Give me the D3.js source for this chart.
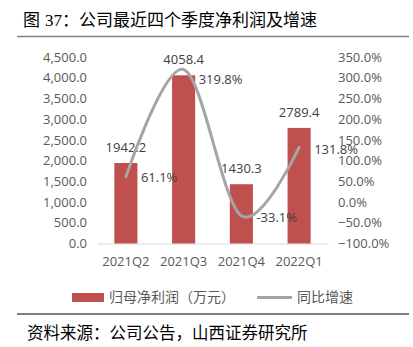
<!DOCTYPE html>
<html>
<head>
<meta charset="utf-8">
<script src="https://cdn.jsdelivr.net/npm/d3@7/dist/d3.min.js"></script>
<style>
  html, body { margin: 0; padding: 0; background: #fff; }
  svg { display: block; }
</style>
</head>
<body>
<svg id="chart" width="413" height="347"></svg>
<script>
// Quarterly net profit attributable to parent (10k CNY) and YoY growth (%)
const quarters = ["2021Q2", "2021Q3", "2021Q4", "2022Q1"];
const netProfit = [1942.2, 4058.4, 1430.3, 2789.4];
const yoyGrowth = [61.1, 319.8, -33.1, 131.8];
const leftTicks = [0, 500, 1000, 1500, 2000, 2500, 3000, 3500, 4000, 4500];
const rightTicks = [-100, -50, 0, 50, 100, 150, 200, 250, 300, 350];

const svg = d3.select("#chart");
const numFont = "'Open Sans', 'Noto Sans', sans-serif";
const cjkFont = "'Noto Sans CJK SC', sans-serif";
const textGray = "#595959";
const barColor = "#c0504d";
const lineColor = "#a5a5a5";

const plot = { left: 97, right: 328, top: 57, bottom: 243.5 };

const x = d3.scaleBand()
  .domain(quarters)
  .range([plot.left, plot.right])
  .paddingInner(0.6)
  .paddingOuter(0.3);

const yL = d3.scaleLinear().domain([0, 4500]).range([plot.bottom, plot.top]);
const yR = d3.scaleLinear().domain([-100, 350]).range([plot.bottom, plot.top]);

// Title and rule beneath it
svg.append("text")
  .attr("x", 23).attr("y", 26)
  .attr("font-family", cjkFont).attr("font-size", 17).attr("fill", "#000")
  .call(t => {
    t.append("tspan").text("图");
    t.append("tspan").attr("dx", 5).attr("font-family", "'Liberation Serif', serif").text("37");
    t.append("tspan").text("：公司最近四个季度净利润及增速");
  });
svg.append("line")
  .attr("x1", 17).attr("x2", 409).attr("y1", 36.5).attr("y2", 36.5)
  .attr("stroke", "#808080").attr("stroke-width", 1.5);

// Left axis
const leftAxis = svg.append("g")
  .attr("transform", `translate(${plot.left - 10},0)`)
  .call(d3.axisLeft(yL).tickValues(leftTicks).tickSize(0).tickPadding(0)
    .tickFormat(d3.format(",.1f")));
leftAxis.select(".domain").remove();
leftAxis.selectAll("text")
  .attr("font-family", numFont).attr("font-size", 13).attr("fill", textGray);

// Right axis
const rightAxis = svg.append("g")
  .attr("transform", `translate(${plot.right + 10},0)`)
  .call(d3.axisRight(yR).tickValues(rightTicks).tickSize(0).tickPadding(0)
    .tickFormat(d => d3.format(".1f")(d) + "%"));
rightAxis.select(".domain").remove();
rightAxis.selectAll("text")
  .attr("font-family", numFont).attr("font-size", 13).attr("fill", textGray);

// Bottom category axis
const bottomAxis = svg.append("g")
  .attr("transform", `translate(0,${plot.bottom})`)
  .call(d3.axisBottom(x).tickSize(0).tickPadding(13));
bottomAxis.select(".domain").attr("stroke", "#d9d9d9").attr("stroke-width", 1);
bottomAxis.selectAll("text")
  .attr("font-family", numFont).attr("font-size", 13).attr("fill", textGray);

// Bars
svg.append("g").selectAll("rect")
  .data(netProfit)
  .join("rect")
  .attr("x", (d, i) => x(quarters[i]))
  .attr("width", x.bandwidth())
  .attr("y", d => yL(d))
  .attr("height", d => yL(0) - yL(d))
  .attr("fill", barColor);

// Bar value labels
svg.append("g").selectAll("text")
  .data(netProfit)
  .join("text")
  .attr("x", (d, i) => x(quarters[i]) + x.bandwidth() / 2)
  .attr("y", d => yL(d) - 11)
  .attr("text-anchor", "middle")
  .attr("font-family", numFont).attr("font-size", 13).attr("fill", "#404040")
  .text(d => d.toFixed(1));

// Smoothed growth line
const cx = i => x(quarters[i]) + x.bandwidth() / 2;
const line = d3.line()
  .x((d, i) => cx(i))
  .y(d => yR(d))
  .curve(d3.curveCardinal.tension(0));
svg.append("path")
  .datum(yoyGrowth)
  .attr("d", line)
  .attr("fill", "none")
  .attr("stroke", lineColor)
  .attr("stroke-width", 3)
  .attr("stroke-linecap", "round");

// Growth labels, set to the right of each point
const pctLabelNudge = [1, 10, 2, 2];
svg.append("g").selectAll("text")
  .data(yoyGrowth)
  .join("text")
  .attr("x", (d, i) => cx(i) + 15)
  .attr("y", (d, i) => yR(d) + pctLabelNudge[i])
  .attr("dy", "0.35em")
  .attr("font-family", numFont).attr("font-size", 13).attr("fill", "#404040")
  .text(d => d.toFixed(1) + "%");

// Legend
const legend = svg.append("g");
legend.append("rect")
  .attr("x", 72).attr("y", 293).attr("width", 32).attr("height", 9)
  .attr("fill", barColor);
legend.append("text")
  .attr("x", 109).attr("y", 297.5).attr("dy", "0.35em")
  .attr("font-family", cjkFont).attr("font-size", 14).attr("fill", textGray)
  .text("归母净利润（万元）");
legend.append("line")
  .attr("x1", 257).attr("x2", 292).attr("y1", 297.5).attr("y2", 297.5)
  .attr("stroke", lineColor).attr("stroke-width", 3);
legend.append("text")
  .attr("x", 297).attr("y", 297.5).attr("dy", "0.35em")
  .attr("font-family", cjkFont).attr("font-size", 14).attr("fill", textGray)
  .text("同比增速");

// Source note
svg.append("line")
  .attr("x1", 17).attr("x2", 409).attr("y1", 314).attr("y2", 314)
  .attr("stroke", "#000").attr("stroke-width", 1.2);
svg.append("text")
  .attr("x", 27).attr("y", 333).attr("dy", "0.35em")
  .attr("font-family", cjkFont).attr("font-size", 16.5).attr("fill", "#000")
  .text("资料来源：公司公告，山西证券研究所");
</script>
</body>
</html>
